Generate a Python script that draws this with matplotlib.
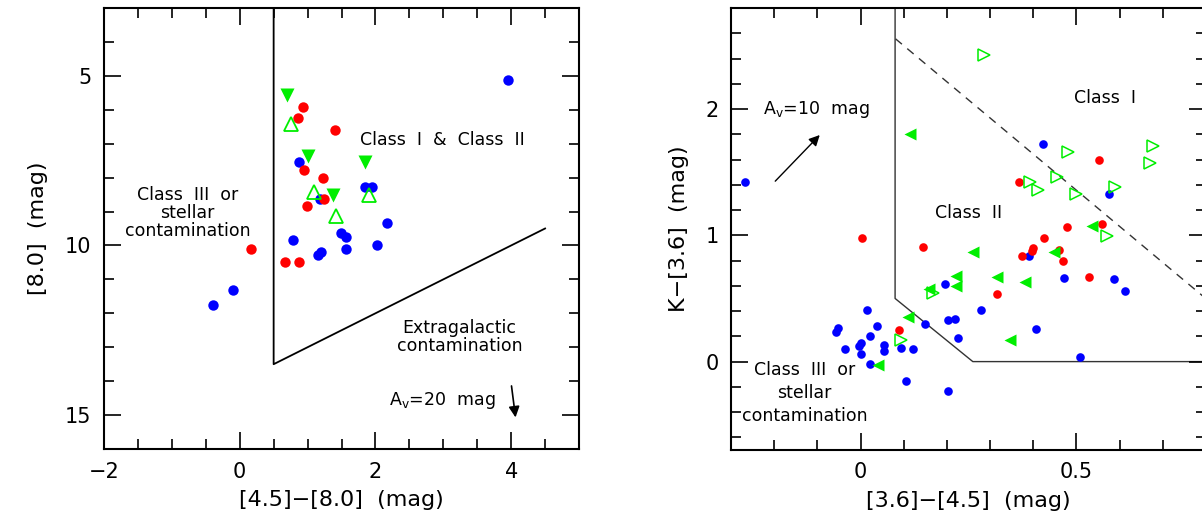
import matplotlib
matplotlib.use("Agg")
import matplotlib.pyplot as plt
from matplotlib.ticker import MultipleLocator, FixedLocator

plt.rcParams['font.family'] = ['DejaVu Sans']
plt.rcParams['mathtext.default'] = 'regular'

# ---------------- Left panel data: [4.5]-[8.0] vs [8.0] ----------------
L_blue_x = [0.87, 1.18, 1.85, 1.95, 2.17, 1.49, 1.57, 0.79, 1.57, 2.03, 1.15, 1.20, -0.10, -0.40, 3.96]
L_blue_y = [7.55, 8.63, 8.28, 8.28, 9.35, 9.64, 9.76, 9.84, 10.10, 10.0, 10.28, 10.2, 11.32, 11.75, 5.13]
L_red_x = [0.93, 0.86, 1.40, 0.95, 1.22, 1.24, 0.99, 0.16, 0.67, 0.87]
L_red_y = [5.91, 6.23, 6.61, 7.79, 8.0, 8.63, 8.83, 10.11, 10.5, 10.5]
L_gfill_x = [0.70, 1.00, 1.84, 1.38]
L_gfill_y = [5.56, 7.36, 7.53, 8.51]
L_gopen_x = [0.76, 1.09, 1.42, 1.90]
L_gopen_y = [6.42, 8.43, 9.12, 8.51]
L_bound_x = [0.5, 0.5, 4.5]
L_bound_y = [3.0, 13.5, 9.5]

# ---------------- Right panel data: [3.6]-[4.5] vs K-[3.6] ----------------
R_blue_x = [-0.267, 0.015, 0.039, -0.053, -0.056, 0.022, 0.002, -0.004, 0.054, 0.054,
            -0.037, 0.002, 0.022, 0.094, 0.121, 0.106, 0.150, 0.195, 0.202, 0.218,
            0.225, 0.280, 0.202, 0.407, 0.508, 0.390, 0.471, 0.587, 0.612, 0.423, 0.576]
R_blue_y = [1.426, 0.405, 0.283, 0.265, 0.238, 0.199, 0.144, 0.127, 0.133, 0.085,
            0.102, 0.064, -0.020, 0.106, 0.100, -0.155, 0.300, 0.615, 0.330, 0.337,
            0.186, 0.411, -0.230, 0.257, 0.040, 0.835, 0.663, 0.657, 0.556, 1.723, 1.331]
R_red_x = [0.003, 0.144, 0.090, 0.315, 0.374, 0.400, 0.398, 0.425, 0.459, 0.468,
           0.529, 0.477, 0.560, 0.553, 0.367]
R_red_y = [0.980, 0.910, 0.248, 0.538, 0.837, 0.898, 0.874, 0.977, 0.882, 0.793,
           0.668, 1.065, 1.092, 1.595, 1.423]
R_gfill_x = [0.114, 0.260, 0.158, 0.222, 0.220, 0.110, 0.040, 0.316, 0.380, 0.345, 0.447, 0.535]
R_gfill_y = [1.800, 0.867, 0.572, 0.680, 0.598, 0.353, -0.030, 0.668, 0.628, 0.172, 0.870, 1.073]
R_gopen_x = [0.286, 0.481, 0.678, 0.670, 0.392, 0.411, 0.454, 0.499, 0.589, 0.571, 0.167, 0.094]
R_gopen_y = [2.425, 1.662, 1.704, 1.569, 1.423, 1.359, 1.458, 1.331, 1.386, 0.994, 0.544, 0.172]
R_bound_x = [0.08, 0.08, 0.26, 0.80]
R_bound_y = [2.80, 0.50, 0.00, 0.00]
R_dash_x = [0.081, 0.80]
R_dash_y = [2.556, 0.498]

BLUE = '#0000ff'
RED = '#ff0000'
GREEN = '#00ee00'

W, H = 1202, 521
fig = plt.figure(figsize=(W / 100, H / 100), dpi=100)
ax1 = fig.add_axes([104 / W, (H - 449) / H, 475 / W, 441 / H])
ax2 = fig.add_axes([731 / W, (H - 450) / H, 475 / W, 442 / H])


def style(ax):
    for s in ax.spines.values():
        s.set_linewidth(1.5)
    ax.tick_params(which='both', direction='in', top=True, right=True, width=1.2,
                   labelsize=15, pad=9)
    ax.tick_params(which='major', length=12)
    ax.tick_params(which='minor', length=7)


# ---- left panel ----
ax1.plot(L_bound_x, L_bound_y, color='k', lw=1.3, zorder=1)
ax1.plot(L_blue_x, L_blue_y, 'o', color=BLUE, ms=7.5, mec='none', zorder=3)
ax1.plot(L_red_x, L_red_y, 'o', color=RED, ms=7.5, mec='none', zorder=3)
ax1.plot(L_gfill_x, L_gfill_y, 'v', color=GREEN, ms=9.5, mec='none', zorder=4)
ax1.plot(L_gopen_x, L_gopen_y, '^', mfc='none', mec=GREEN, mew=1.3, ms=9.5, zorder=4)
ax1.set_xlim(-2, 5)
ax1.set_ylim(16, 3)
ax1.xaxis.set_major_locator(FixedLocator([-2, 0, 2, 4]))
ax1.xaxis.set_minor_locator(MultipleLocator(0.5))
ax1.yaxis.set_major_locator(FixedLocator([5, 10, 15]))
ax1.yaxis.set_minor_locator(MultipleLocator(1))
style(ax1)
ax1.set_xlabel('[4.5]\u2212[8.0]  (mag)', fontsize=16, labelpad=6)
ax1.set_ylabel('[8.0]  (mag)', fontsize=16, labelpad=12)
ax1.text(2.98, 6.89, 'Class  I  &  Class  II', fontsize=12.5, ha='center', va='center')
ax1.text(-0.77, 9.04, 'Class  III  or\nstellar\ncontamination', fontsize=12.5,
         ha='center', va='center', linespacing=1.0)
ax1.text(3.24, 12.7, 'Extragalactic\ncontamination', fontsize=12.5,
         ha='center', va='center', linespacing=1.0)
ax1.text(2.98, 14.56, r'A$_v$=20  mag', fontsize=12.5, ha='center', va='center')
ax1.annotate('', xy=(4.07, 15.15), xytext=(4.0, 14.06),
             arrowprops=dict(arrowstyle='-|>', color='k', lw=1.2, mutation_scale=16))

# ---- right panel ----
ax2.plot(R_bound_x, R_bound_y, color='#333333', lw=1.0, zorder=1)
ax2.plot(R_dash_x, R_dash_y, color='#333333', lw=1.0, ls=(0, (6, 5)), zorder=1)
ax2.plot(R_blue_x, R_blue_y, 'o', color=BLUE, ms=6.2, mec='none', zorder=3)
ax2.plot(R_red_x, R_red_y, 'o', color=RED, ms=6.2, mec='none', zorder=3)
ax2.plot(R_gfill_x, R_gfill_y, '<', color=GREEN, ms=9, mec='none', zorder=4)
ax2.plot(R_gopen_x, R_gopen_y, '>', mfc='none', mec=GREEN, mew=1.1, ms=9, zorder=4)
ax2.set_xlim(-0.3, 0.8)
ax2.set_ylim(-0.7, 2.8)
ax2.xaxis.set_major_locator(FixedLocator([0, 0.5]))
ax2.xaxis.set_minor_locator(MultipleLocator(0.1))
ax2.yaxis.set_major_locator(FixedLocator([0, 1, 2]))
ax2.yaxis.set_minor_locator(MultipleLocator(0.2))
style(ax2)
ax2.set_xticklabels(['0', '0.5'])
ax2.set_xlabel('[3.6]\u2212[4.5]  (mag)', fontsize=16, labelpad=6)
ax2.set_ylabel('K\u2212[3.6]  (mag)', fontsize=16, labelpad=12)
ax2.text(-0.225, 2.0, r'A$_v$=10  mag', fontsize=12.5, ha='left', va='center')
ax2.annotate('', xy=(-0.09, 1.81), xytext=(-0.202, 1.413),
             arrowprops=dict(arrowstyle='-|>', color='k', lw=1.0, mutation_scale=16))
ax2.text(0.566, 2.09, 'Class  I', fontsize=12.5, ha='center', va='center')
ax2.text(0.25, 1.18, 'Class  II', fontsize=12.5, ha='center', va='center')
ax2.text(-0.13, -0.25, 'Class  III  or\nstellar\ncontamination', fontsize=12.5,
         ha='center', va='center', linespacing=1.35)

fig.savefig('out.png', dpi=100)
